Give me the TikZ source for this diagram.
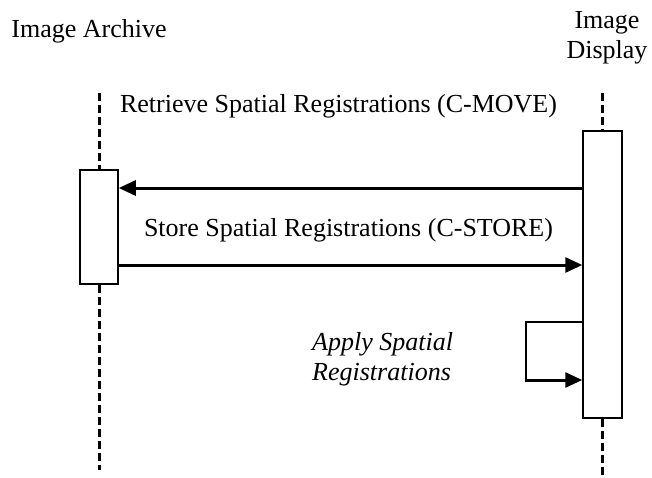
\documentclass[tikz,border=0pt]{standalone}
\usepackage{fontspec}
\setmainfont{Liberation Serif}
\usetikzlibrary{arrows.meta}
\begin{document}
\begin{tikzpicture}[x=1pt,y=-1pt,
  actbox/.style={draw,line width=1.5pt,fill=white,inner sep=0pt,minimum width=38pt},
  lifeline/.style={line width=3pt,dash pattern=on 8pt off 4pt},
  msg/.style={line width=3pt,-{Triangle[length=17pt,width=15pt]}},
  loopline/.style={line width=2pt},
  lbl/.style={font=\fontsize{26}{30}\selectfont,inner sep=0pt},
]
\useasboundingbox (0,0) rectangle (652,477);
% actors
\node[lbl] (ta) at (89,31) {Image Archive};
\node[lbl,align=center] (td) at (607,38) {Image\\Display};
% activation boxes
\node[actbox,minimum height=114pt] (A) at (99,227) {};
\node[actbox,minimum width=39pt,minimum height=287pt] (B) at (602.5,274.5) {};
% lifelines
\coordinate (Atop) at (99,93);
\coordinate (Abot) at (99,470);
\coordinate (Btop) at (602.5,93);
\coordinate (Bbot) at (602.5,477);
\draw[lifeline] (Atop) -- (A.north);
\draw[lifeline] (A.south) -- (Abot);
\draw[lifeline] (Btop) -- (B.north);
\draw[lifeline] (B.south) -- (Bbot);
% messages
\coordinate (r1) at (0,188);
\coordinate (r2) at (0,265);
\draw[msg] (B.west |- r1) -- (A.east |- r1);
\draw[msg] ([xshift=-1pt]A.east |- r2) -- (B.west |- r2);
\node[lbl] (l1) at (338.5,106) {Retrieve Spatial Registrations (C-MOVE)};
\node[lbl] (l2) at (348.5,230) {Store Spatial Registrations (C-STORE)};
% self message
\coordinate (s1) at (526,322);
\coordinate (s2) at (526,380);
\draw[loopline] (B.west |- s1) -- (s1) -- (s2);
\draw[msg] ([xshift=-1pt]s2) -- (B.west |- s2);
\node[lbl,font=\fontsize{26}{30}\selectfont\itshape,align=left,anchor=west] (l3) at (312,359) {Apply Spatial\\Registrations};
\end{tikzpicture}
\end{document}
